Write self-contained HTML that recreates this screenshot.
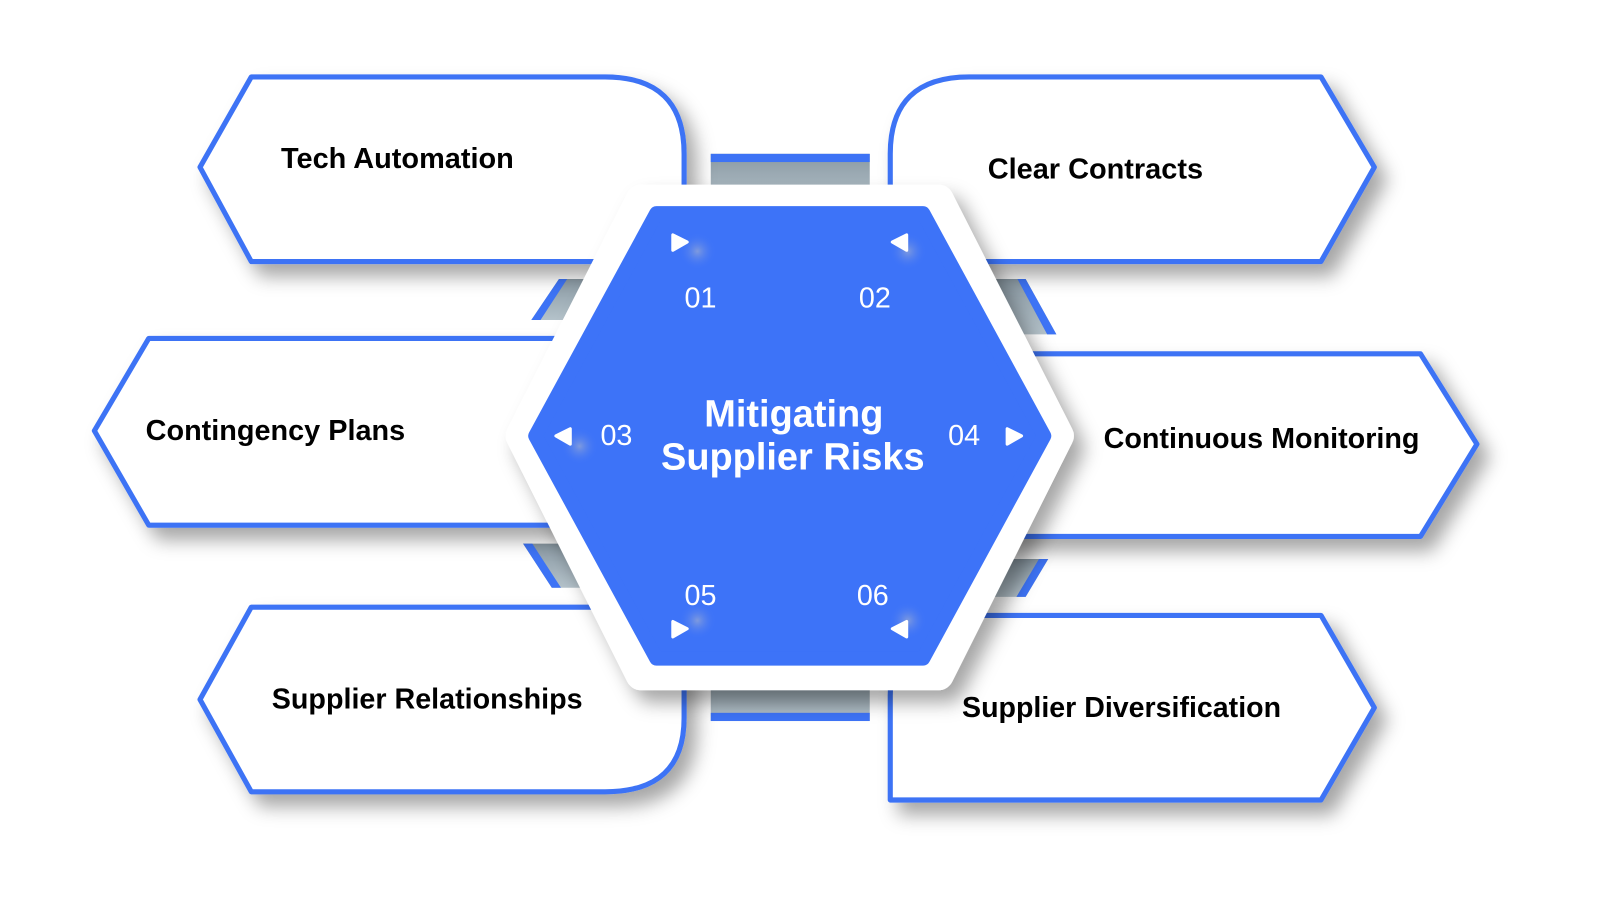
<!DOCTYPE html>
<html><head><meta charset="utf-8"><style>
html,body{margin:0;padding:0;background:#fff;width:1600px;height:900px;overflow:hidden}
svg{display:block}
text{font-family:"Liberation Sans",sans-serif}
</style></head><body>
<svg width="1600" height="900" viewBox="0 0 1600 900" xmlns="http://www.w3.org/2000/svg">
<defs>
<filter id="sh" x="-20%" y="-20%" width="150%" height="160%">
<feDropShadow dx="10" dy="12" stdDeviation="9" flood-color="#000" flood-opacity="0.35"/>
</filter>
<linearGradient id="gr" x1="0" y1="0" x2="0" y2="1">
<stop offset="0" stop-color="#8a99a3"/><stop offset="1" stop-color="#b4c2ca"/>
</linearGradient>
<radialGradient id="gl"><stop offset="0" stop-color="#8fa4d8" stop-opacity="0.8"/><stop offset="1" stop-color="#3d73f8" stop-opacity="0"/></radialGradient>
</defs>
<g transform="scale(1.02564)">
<!-- connectors -->
<rect x="693" y="150" width="155" height="48" fill="url(#gr)"/>
<rect x="693" y="150" width="155" height="8" fill="#3d73f5"/>
<rect x="693" y="656" width="155" height="47" fill="url(#gr)"/>
<rect x="693" y="695" width="155" height="8" fill="#3d73f5"/>
<polygon points="545,272 600,272 580,312 518,312" fill="url(#gr)"/>
<polygon points="545,272 553,272 527,312 518,312" fill="#3d73f5"/>
<polygon points="960,272 1000,272 1030,326 985,326" fill="url(#gr)"/>
<polygon points="992,272 1000,272 1030,326 1021,326" fill="#3d73f5"/>
<polygon points="510,530 560,530 585,573 538,573" fill="url(#gr)"/>
<polygon points="510,530 519,530 547,573 538,573" fill="#3d73f5"/>
<polygon points="960,545 1022,545 1000,582 940,582" fill="url(#gr)"/>
<polygon points="1013,545 1022,545 1000,582 991,582" fill="#3d73f5"/>
<!-- cards -->
<g fill="#fff" stroke="#3d73f5" stroke-width="5" stroke-linejoin="round" filter="url(#sh)">
<path d="M195,163 L245,75 L590,75 Q667,75 667,150 L667,255 L245,255 Z"/>
<path d="M1340,163 L1288,75 L945,75 Q868,75 868,150 L868,255 L1288,255 Z"/>
<path d="M92,420 L145,330 L600,330 L600,512 L145,512 Z"/>
<path d="M1440,433 L1385,345 L960,345 L960,523 L1385,523 Z"/>
<path d="M195,682 L245,592 L667,592 L667,700 Q667,772 590,772 L245,772 Z"/>
<path d="M1340,690 L1288,600 L945,600 Q868,600 868,678 L868,780 L1288,780 Z"/>
</g>
<g font-weight="bold" font-size="28" fill="#000">
<text x="274" y="164" textLength="227" lengthAdjust="spacingAndGlyphs">Tech Automation</text>
<text x="963" y="174" textLength="210" lengthAdjust="spacingAndGlyphs">Clear Contracts</text>
<text x="142" y="429" textLength="253" lengthAdjust="spacingAndGlyphs">Contingency Plans</text>
<text x="1076" y="437" textLength="308" lengthAdjust="spacingAndGlyphs">Continuous Monitoring</text>
<text x="265" y="691" textLength="303" lengthAdjust="spacingAndGlyphs">Supplier Relationships</text>
<text x="938" y="699" textLength="311" lengthAdjust="spacingAndGlyphs">Supplier Diversification</text>
</g>
<!-- hexagon -->
<path d="M625,195 L915,195 L1032,425 L915,658 L625,658 L508,425 Z" fill="#fff" stroke="#fff" stroke-width="30" stroke-linejoin="round" filter="url(#sh)"/>
<path d="M640,208 L900,208 L1018,425 L900,642 L640,642 L522,425 Z" fill="#3d73f8" stroke="#3d73f8" stroke-width="14" stroke-linejoin="round"/>
<circle cx="680" cy="245" r="18" fill="url(#gl)"/>
<circle cx="885" cy="245" r="18" fill="url(#gl)"/>
<circle cx="565" cy="435" r="18" fill="url(#gl)"/>
<circle cx="680" cy="605" r="18" fill="url(#gl)"/>
<circle cx="885" cy="605" r="18" fill="url(#gl)"/>
<g fill="#fff" stroke="#fff" stroke-width="3" stroke-linejoin="round">
<polygon points="656,229 656,244 670,236"/>
<polygon points="884,229 884,244 870,236"/>
<polygon points="556,418 556,433 542,425"/>
<polygon points="982,418 982,433 996,425"/>
<polygon points="656,606 656,621 670,613"/>
<polygon points="884,606 884,621 870,613"/>
</g>
<g fill="#fff" font-size="28" text-anchor="middle">
<text x="683" y="300">01</text>
<text x="853" y="300">02</text>
<text x="601" y="434">03</text>
<text x="940" y="434">04</text>
<text x="683" y="590">05</text>
<text x="851" y="590">06</text>
</g>
<g fill="#fff" font-weight="bold" font-size="37" text-anchor="middle">
<text x="774" y="416">Mitigating</text>
<text x="773" y="458">Supplier Risks</text>
</g>
</g>
</svg>
</body></html>
